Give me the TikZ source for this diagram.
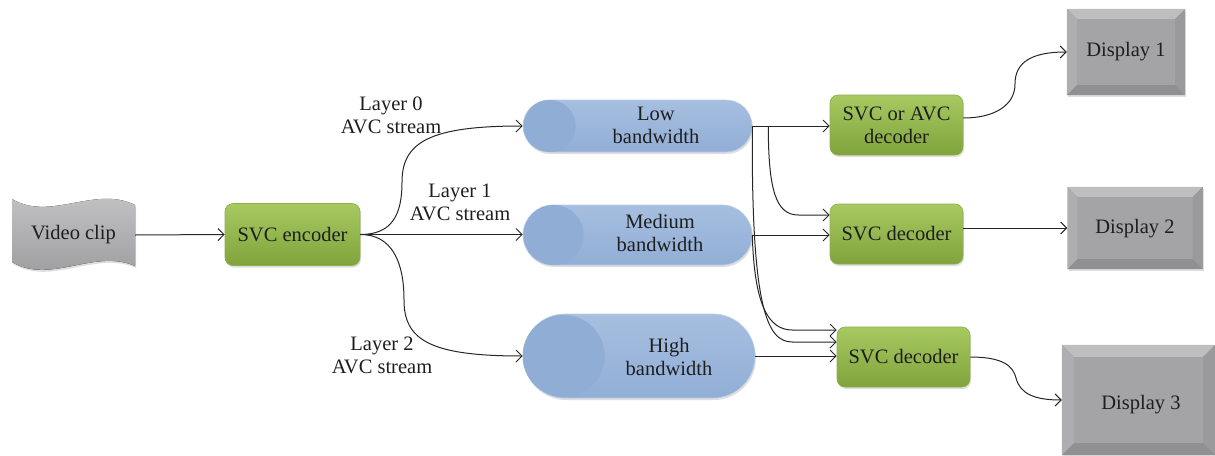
\documentclass[tikz,border=0pt]{standalone}
\usepackage{fontspec}
\setmainfont{Liberation Serif}
\usetikzlibrary{arrows.meta,shadows,calc}

\definecolor{greentop}{HTML}{A8C962}
\definecolor{greenbot}{HTML}{80A33C}
\definecolor{greenline}{HTML}{8DAE4C}
\definecolor{pilltop}{HTML}{A6BFE0}
\definecolor{pillbot}{HTML}{92AED6}
\definecolor{pilldisc}{HTML}{90ADD6}
\definecolor{pillline}{HTML}{B9CCE6}
\definecolor{dispface}{HTML}{A4A4A6}
\definecolor{disptop}{HTML}{BEBEC0}
\definecolor{displeft}{HTML}{AEAEB0}
\definecolor{dispright}{HTML}{9A9A9C}
\definecolor{dispbot}{HTML}{909092}
\definecolor{cliptop}{HTML}{C6C6C8}
\definecolor{clipbot}{HTML}{9A9A9C}
\definecolor{ink}{HTML}{1E1E1E}
\definecolor{wire}{HTML}{262626}

% bevelled frame around a display node: #1 node name, #2 bevel depth
\newcommand\bevelframe[2]{%
  \fill[disptop] (#1.north west) -- (#1.north east) -- ($(#1.north east)+(-#2,#2)$) -- ($(#1.north west)+(#2,#2)$) -- cycle;
  \fill[displeft] (#1.north west) -- ($(#1.north west)+(#2,#2)$) -- ($(#1.south west)+(#2,-#2)$) -- (#1.south west) -- cycle;
  \fill[dispright] (#1.north east) -- ($(#1.north east)+(-#2,#2)$) -- ($(#1.south east)+(-#2,-#2)$) -- (#1.south east) -- cycle;
  \fill[dispbot] (#1.south west) -- ($(#1.south west)+(#2,-#2)$) -- ($(#1.south east)+(-#2,-#2)$) -- (#1.south east) -- cycle;
}

\begin{document}
\begin{tikzpicture}[x=1pt,y=-1pt,
  font=\fontsize{20.5}{23}\selectfont, text=ink,
  softshadow/.style={drop shadow={shadow xshift=1pt,shadow yshift=-2pt,opacity=0.25}},
  codec/.style={draw=greenline, line width=0.6pt, rounded corners=8pt,
    top color=greentop, bottom color=greenbot, minimum width=133pt,
    minimum height=60pt, align=center, inner sep=2pt, softshadow},
  pill/.style={draw=pillline, line width=0.6pt, top color=pilltop,
    bottom color=pillbot, softshadow},
  screen/.style={fill=dispface, inner sep=0pt, softshadow},
  caption/.style={align=center, inner sep=0pt},
  link/.style={draw=wire, line width=1pt,
    -{Straight Barb[length=6pt,width=12pt,line width=1pt]}},
]
\useasboundingbox (0,0) rectangle (1215,455);

% source clip: waving banner
\fill[top color=cliptop, bottom color=clipbot, softshadow]
  (12,199) .. controls (50,222) and (95,185) .. (135,205)
  -- (135,266) .. controls (95,248) and (50,285) .. (12,262) -- cycle;
\node[minimum width=123pt, minimum height=62pt, inner sep=0pt] (clip) at (73.5,235) {Video clip};

% encoder
\node[codec, minimum width=135pt, minimum height=62pt] (enc) at (292.5,234.5) {SVC encoder};

% bandwidth channels
\node[pill, minimum width=229pt, minimum height=52pt, rounded corners=26pt] (low) at (637.5,126) {};
\fill[pilldisc] ($(low.west)+(27,0)$) circle[radius=26pt];
\node[caption] (lowtxt) at (656,125) {Low\\bandwidth};

\node[pill, minimum width=229pt, minimum height=60pt, rounded corners=30pt] (mid) at (637.5,235) {};
\fill[pilldisc] ($(mid.west)+(31,0)$) circle[radius=30pt];
\node[caption] (midtxt) at (660,233) {Medium\\bandwidth};

\node[pill, minimum width=232pt, minimum height=84pt, rounded corners=42pt] (high) at (639,356) {};
\fill[pilldisc] ($(high.west)+(41,0)$) circle[radius=41pt];
\node[caption] (hightxt) at (669,357) {High\\bandwidth};

% decoders
\node[codec] (dec1) at (896.5,125) {SVC or AVC\\decoder};
\node[codec] (dec2) at (896.5,234) {SVC decoder};
\node[codec] (dec3) at (903.5,357) {SVC decoder};

% displays
\node[screen, minimum width=118pt, minimum height=86pt] (disp1) at (1126,52) {};
\bevelframe{disp1}{10}
\node[caption] (disp1txt) at (1126,52) {Display 1};

\node[screen, minimum width=135pt, minimum height=82pt] (disp2) at (1135,228) {};
\bevelframe{disp2}{10}
\node[caption] (disp2txt) at (1135,229) {Display 2};

\node[screen, minimum width=153pt, minimum height=110pt] (disp3) at (1138.5,400) {};
\bevelframe{disp3}{12}
\node[caption] (disp3txt) at (1141,405) {Display 3};

% layer labels
\node[caption] (lay0) at (391,115.5) {Layer 0\\AVC stream};
\node[caption] (lay1) at (460,202.5) {Layer 1\\AVC stream};
\node[caption] (lay2) at (382,355.5) {Layer 2\\AVC stream};

% bend points of the fan-out connectors
\coordinate (fork) at ($(low.east)+(16,0)$);
\coordinate (k1) at ($(fork)+(30,89)$);
\coordinate (k2) at ($(low.east)+(40,216)$);
\coordinate (k3) at ($(mid.east)+(40,95)$);

% connectors
\draw[link] (clip.east) -- (enc.west);
\draw[link] (enc.east) .. controls (392,234.5) and (402,215) .. (402,182)
  .. controls (402,142) and (430,126) .. (low.west);
\draw[link] (enc.east) -- (enc.east -| mid.west);
\draw[link] (enc.east) .. controls (392,234.5) and (404,262) .. (404,300)
  .. controls (404,340) and (430,356) .. (high.west);

\draw[link] (low.east) -- (low.east -| dec1.west);
\draw[link] (fork) .. controls ($(fork)+(0,65)$) and ($(fork)+(8,89)$) .. (k1)
  -- (k1 -| dec2.west);
\draw[link] (low.east) .. controls ($(low.east)+(-1,180)$) and ($(low.east)+(14,216)$) .. (k2)
  -- (k2 -| dec3.west);

\draw[link] (mid.east) -- (mid.east -| dec2.west);
\draw[link] (mid.east) .. controls ($(mid.east)+(2,70)$) and ($(mid.east)+(16,95)$) .. (k3)
  -- (k3 -| dec3.west);
\draw[link] (high.east) -- (high.east -| dec3.west);

\draw[link] ($(dec1.east)+(0,-7)$) .. controls (995,118) and (1015,105) .. (1015,84)
  .. controls (1015,62) and (1032,52) .. (disp1.west);
\draw[link] (dec2.east |- disp2.west) -- (disp2.west);
\draw[link] (dec3.east) .. controls (1003,357) and (1013,366) .. (1016,378)
  .. controls (1020,394) and (1035,400) .. (disp3.west);
\end{tikzpicture}
\end{document}
